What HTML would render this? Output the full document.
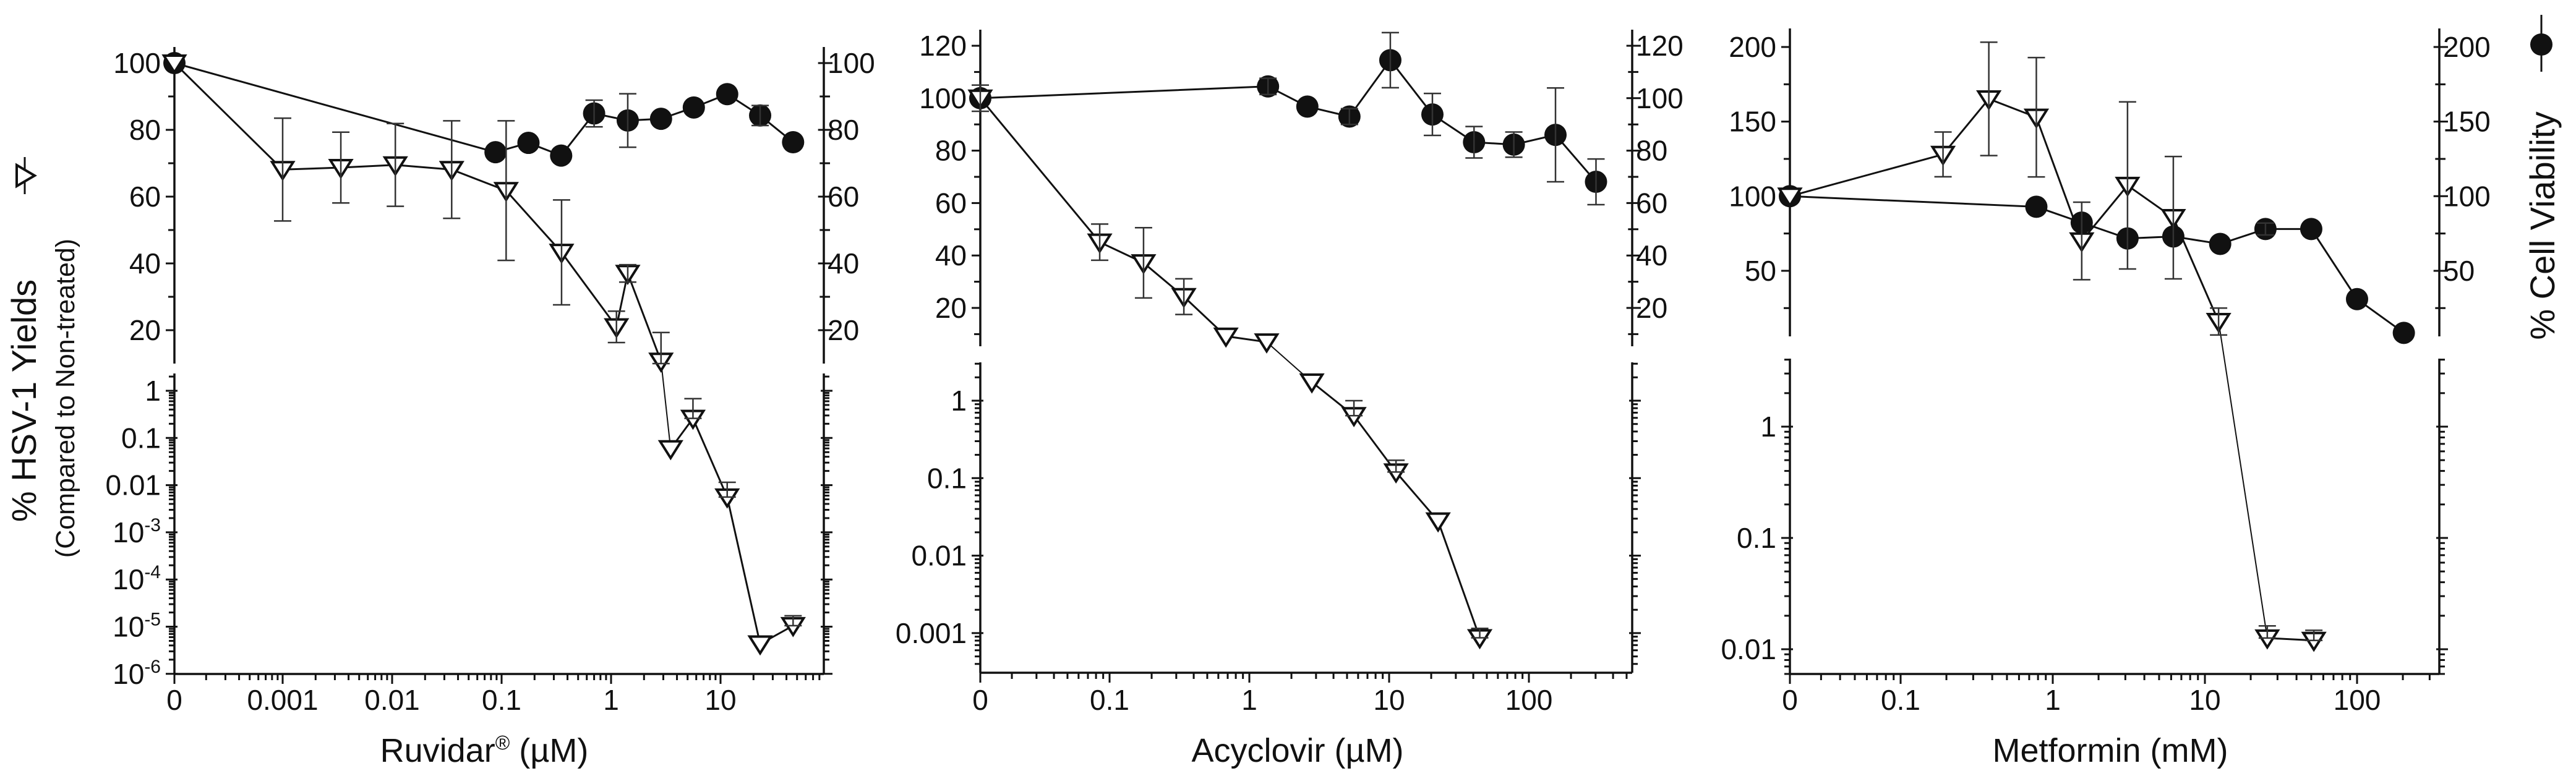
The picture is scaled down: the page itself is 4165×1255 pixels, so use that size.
<!DOCTYPE html>
<html><head><meta charset="utf-8"><style>
html,body{margin:0;padding:0;background:#fff}
svg{display:block;font-family:"Liberation Sans",Arial,sans-serif}
</style></head><body>
<svg id="fig" xmlns="http://www.w3.org/2000/svg" width="4165" height="1255" viewBox="0 0 4165 1255">
<g>
<text x="58" y="648" font-size="56" text-anchor="middle" transform="rotate(-90 58 648)" fill="#111">% HSV-1 Yields</text>
<text x="120" y="644" font-size="43" text-anchor="middle" transform="rotate(-90 120 644)" fill="#111">(Compared to Non-treated)</text>
<g transform="translate(40 284) rotate(-90)">
<line x1="-30" y1="0" x2="30" y2="0" stroke="#111" stroke-width="3"/>
<polygon points="-17,-13 17,-13 0,16" fill="#fff" stroke="#111" stroke-width="4"/>
</g>
</g>
<g>
<text x="4130" y="365" font-size="56" text-anchor="middle" transform="rotate(-90 4130 365)" fill="#111">% Cell Viability</text>
<g>
<line x1="4109" y1="24" x2="4109" y2="116" stroke="#111" stroke-width="3"/>
<circle cx="4109" cy="72" r="18" fill="#111"/>
</g>
</g>
</svg>
<script>
// ---------- Panel 1: Ruvidar ----------
const p1ViaConc = [0,0.088,0.176,0.35,0.7,1.42,2.86,5.7,11.5,23,46];
const p1ViaVal  = [100,73.3,76.1,72.3,84.9,82.8,83.3,86.7,90.7,84.3,76.3];
const p1ViaErr  = [0,0,0,0,4,8,0,0,0,3,0];
const p1YieldConc = [0,0.001,0.0034,0.0107,0.035,0.11,0.353,1.12,1.42,2.86];
const p1YieldVal  = [100,68.1,68.7,69.5,68.1,61.8,43.3,21,37,10.7];
const p1YieldErr  = [0,15.4,10.6,12.4,14.6,20.9,15.7,4.7,2.6,8.6];
const p1LogConc = [3.5,5.6,11.5,23,46];
const p1LogVal  = [0.059,0.26,0.0056,4.3e-6,1.05e-5];
const p1LogTop  = [0.059,0.68,0.0115,4.3e-6,1.7e-5];
const p1XTicks = ["0","0.001","0.01","0.1","1","10"];
const p1UpperTicks = [20,40,60,80,100];
const p1LowerTicks = [1,0.1,0.01,1e-3,1e-4,1e-5,1e-6];
// ---------- Panel 2: Acyclovir ----------
const p2ViaConc = [0,1.36,2.6,5.2,10.2,20.4,40.5,78,155,302];
const p2ViaVal  = [100,104.5,96.8,93,114.5,93.8,83.2,82.3,86,68.1];
const p2ViaErr  = [0,3.1,0,3,10.5,8,6,4.8,17.9,8.7];
const p2YieldConc = [0,0.085,0.175,0.34,0.68,1.33];
const p2YieldVal  = [100,45.1,37.2,24.3,9.2,7];
const p2YieldErr  = [5,6.9,13.4,6.8,0,0];
const p2LogConc = [2.8,5.6,11.2,22.4,44.5];
const p2LogVal  = [1.74,0.64,0.12,0.028,0.00087];
const p2LogTop  = [1.74,1.0,0.17,0.028,0.00115];
const p2XTicks = ["0","0.1","1","10","100"];
const p2UpperTicks = [20,40,60,80,100,120];
const p2LowerTicks = [1,0.1,0.01,0.001];
// ---------- Panel 3: Metformin ----------
const p3ViaConc = [0,0.78,1.55,3.1,6.2,12.6,25,50,100,203];
const p3ViaVal  = [100,92.9,82.3,71.7,73,68,78,78,31,8.4];
const p3ViaErr  = [0,0,0,0,0,0,4,0,0,0];
const p3YieldConc = [0,0.19,0.38,0.78,1.55,3.1,6.2,12.3];
const p3YieldVal  = [100,128,165.2,152.9,70,107.2,85.6,16];
const p3YieldErr  = [0,15,38,40,26,56,41,9];
const p3LogConc = [25.7,52];
const p3LogVal  = [0.0126,0.012];
const p3LogTop  = [0.0162,0.0148];
const p3XTicks = ["0","0.1","1","10","100"];
const p3UpperTicks = [50,100,150,200];
const p3LowerTicks = [1,0.1,0.01];

const NS = "http://www.w3.org/2000/svg";
const svg = document.getElementById('fig');
function mk(tag, attrs, parent){
  const e = document.createElementNS(NS, tag);
  for (const k in attrs) e.setAttribute(k, attrs[k]);
  (parent||svg).appendChild(e);
  return e;
}
function fmtLog(v, minPlain){
  if (v >= minPlain * 0.999) return [String(v), null];
  return ["10", String(Math.round(Math.log10(v)))];
}
function drawPanel(g){
  const grp = mk('g', {});
  
  
  const xs = c => c <= 0 ? g.left : g.x1 + (Math.log10(c) - g.refLog) * g.dec;
  const yU = v => Math.min(g.uBot, Math.max(g.uTop, g.uRefY + (g.uRefV - v) * g.uScale));
  const yL = v => g.lRefY - Math.log10(v) * g.lDec;
  const blk = '#111';
  const axes = mk('g', {stroke: blk, 'stroke-width': 3.5, fill: 'none'}, grp);
  
  
  mk('line', {x1: g.left, y1: g.uTop, x2: g.left, y2: g.uBot}, axes);
  mk('line', {x1: g.right, y1: g.uTop, x2: g.right, y2: g.uBot}, axes);
  mk('line', {x1: g.left, y1: g.lTop, x2: g.left, y2: g.lBot}, axes);
  mk('line', {x1: g.right, y1: g.lTop, x2: g.right, y2: g.lBot}, axes);
  mk('line', {x1: g.left, y1: g.lBot, x2: g.right, y2: g.lBot}, axes);
  const tk = mk('g', {stroke: blk, 'stroke-width': 3}, grp);
  for (let v = g.uMinorStart; v <= g.uMax; v += g.uMinor) {
    const y = yU(v); if (y > g.uBot - 1 || y < g.uTop) continue;
    const maj = g.upperTicks.includes(v);
    const L = maj ? 14 : 10;
    mk('line', {x1: g.left - L, y1: y, x2: g.left, y2: y}, tk);
    mk('line', {x1: g.right - L/1.5, y1: y, x2: g.right + L, y2: y}, tk);
  }
  g.upperTicks.forEach(v => {
    const t = mk('text', {x: g.left - 22, y: yU(v) + 16, 'font-size': 46, 'text-anchor': 'end', fill: blk}, grp);
    t.textContent = v;
    
    
    const r = mk('text', {x: g.right + 6, y: yU(v) + 16, 'font-size': 46, 'text-anchor': 'start', fill: blk}, grp);
    r.textContent = v;
    
    
  });
  for (let d = -8; d <= 2; d++) {
    for (let m = 1; m <= 9; m++) {
      const v = m * Math.pow(10, d); const y = yL(v);
      if (y < g.lTop || y > g.lBot) continue;
      const L = m === 1 ? 14 : 9;
      mk('line', {x1: g.left - L, y1: y, x2: g.left + (m===1?5:0), y2: y}, tk);
      mk('line', {x1: g.right - (m===1?5:0), y1: y, x2: g.right + L, y2: y}, tk);
    }
  }
  g.lowerTicks.forEach(v => {
    const [base, ex] = fmtLog(v, g.minPlain);
    const t = mk('text', {x: g.left - 22, y: yL(v) + 16, 'font-size': 46, 'text-anchor': 'end', fill: blk}, grp);
    
    
    if (ex === null) t.textContent = base;
    else {
      const a = mk('tspan', {}, t); a.textContent = base;
      const b = mk('tspan', {'font-size': 30, dy: -18}, t); b.textContent = ex;
    }
  });
  mk('line', {x1: g.left, y1: g.lBot, x2: g.left, y2: g.lBot + 16}, tk);
  for (let d = -6; d <= 3; d++) {
    for (let m = 1; m <= 9; m++) {
      const c = m * Math.pow(10, d); const x = xs(c);
      if (x <= g.left + 15 || x >= g.right) continue;
      mk('line', {x1: x, y1: g.lBot, x2: x, y2: g.lBot + (m === 1 ? 16 : 10)}, tk);
    }
  }
  g.xTicks.forEach(s => {
    const x = s === "0" ? g.left : xs(parseFloat(s));
    const t = mk('text', {x: x, y: 1148, 'font-size': 46, 'text-anchor': 'middle', fill: blk}, grp);
    t.textContent = s;
    
    
  });
  const xt = mk('text', {x: g.titleX, y: 1232, 'font-size': 54, 'text-anchor': 'middle', fill: blk}, grp);
  
  
  if (g.reg) {
    const a = mk('tspan', {}, xt); a.textContent = 'Ruvidar';
    const b = mk('tspan', {'font-size': 32, dy: -20}, xt); b.textContent = '®';
    const c = mk('tspan', {dy: 20}, xt); c.textContent = ' (µM)';
  } else xt.textContent = g.title;

  const via = mk('g', {}, grp);
  
  
  const vp = g.viaConc.map((c, i) => xs(c) + ',' + yU(g.viaVal[i])).join(' ');
  mk('polyline', {points: vp, fill: 'none', stroke: blk, 'stroke-width': 3}, via);
  const yld = mk('g', {}, grp);
  
  
  const up = g.yConc.map((c, i) => [xs(c), yU(g.yVal[i])]);
  const lp = g.lConc.map((c, i) => [xs(c), yL(g.lVal[i])]);
  mk('polyline', {points: up.map(p => p.join(',')).join(' '), fill: 'none', stroke: blk, 'stroke-width': 3}, yld);
  mk('polyline', {points: lp.map(p => p.join(',')).join(' '), fill: 'none', stroke: blk, 'stroke-width': 3}, yld);
  const a = up[up.length - 1], b = lp[0];
  mk('line', {x1: a[0], y1: a[1], x2: b[0], y2: b[1], stroke: blk, 'stroke-width': 2}, yld);
  const eb = mk('g', {stroke: '#333', 'stroke-width': 2.5}, grp);
  
  
  function bar(x, y1, y2){
    if (Math.abs(y1 - y2) < 2) return;
    mk('line', {x1: x, y1: y1, x2: x, y2: y2}, eb);
    mk('line', {x1: x - 14, y1: y1, x2: x + 14, y2: y1}, eb);
    mk('line', {x1: x - 14, y1: y2, x2: x + 14, y2: y2}, eb);
  }
  g.viaConc.forEach((c, i) => { if (g.viaErr[i]) bar(xs(c), yU(g.viaVal[i] + g.viaErr[i]), yU(g.viaVal[i] - g.viaErr[i])); });
  g.yConc.forEach((c, i) => { if (g.yErr[i]) bar(xs(c), yU(g.yVal[i] + g.yErr[i]), yU(g.yVal[i] - g.yErr[i])); });
  g.lConc.forEach((c, i) => { if (g.lTopV[i] > g.lVal[i]) bar(xs(c), yL(g.lTopV[i]), yL(g.lVal[i])); });
  g.viaConc.forEach((c, i) => {
    const m = mk('circle', {cx: xs(c), cy: yU(g.viaVal[i]), r: 18, fill: blk}, via);
    
    
  });
  const tri = (x, y) => `${x-17},${y-12} ${x+17},${y-12} ${x},${y+15}`;
  up.concat(lp).forEach(p => {
    const m = mk('polygon', {points: tri(p[0], p[1]), fill: '#fff', stroke: blk, 'stroke-width': 4, 'stroke-linejoin': 'miter'}, yld);
    
    
  });
}
drawPanel({name:'ruvidar-panel', left:282, right:1332, x1:457, refLog:-3, dec:177, minPlain:0.01,
  uTop:76, uBot:588, uRefY:102, uRefV:100, uScale:5.4, uMinor:10, uMinorStart:10, uMax:100,
  lTop:604, lBot:1090, lRefY:632, lDec:76.3,
  upperTicks:p1UpperTicks, lowerTicks:p1LowerTicks, xTicks:p1XTicks, titleX:783, reg:true,
  viaConc:p1ViaConc, viaVal:p1ViaVal, viaErr:p1ViaErr,
  yConc:p1YieldConc, yVal:p1YieldVal, yErr:p1YieldErr,
  lConc:p1LogConc, lVal:p1LogVal, lTopV:p1LogTop});
drawPanel({name:'acyclovir-panel', left:1585, right:2639, x1:2020, refLog:0, dec:226, minPlain:0.001,
  uTop:48, uBot:560, uRefY:74, uRefV:120, uScale:4.24, uMinor:10, uMinorStart:10, uMax:120,
  lTop:586, lBot:1088, lRefY:648, lDec:125.3,
  upperTicks:p2UpperTicks, lowerTicks:p2LowerTicks, xTicks:p2XTicks, titleX:2098, title:'Acyclovir (µM)',
  viaConc:p2ViaConc, viaVal:p2ViaVal, viaErr:p2ViaErr,
  yConc:p2YieldConc, yVal:p2YieldVal, yErr:p2YieldErr,
  lConc:p2LogConc, lVal:p2LogVal, lTopV:p2LogTop});
drawPanel({name:'metformin-panel', left:2894, right:3944, x1:3319, refLog:0, dec:246, minPlain:0.01,
  uTop:46, uBot:544, uRefY:76, uRefV:200, uScale:2.413, uMinor:25, uMinorStart:25, uMax:200,
  lTop:580, lBot:1090, lRefY:690, lDec:180,
  upperTicks:p3UpperTicks, lowerTicks:p3LowerTicks, xTicks:p3XTicks, titleX:3412, title:'Metformin (mM)',
  viaConc:p3ViaConc, viaVal:p3ViaVal, viaErr:p3ViaErr,
  yConc:p3YieldConc, yVal:p3YieldVal, yErr:p3YieldErr,
  lConc:p3LogConc, lVal:p3LogVal, lTopV:p3LogTop});
</script>
</body></html>
